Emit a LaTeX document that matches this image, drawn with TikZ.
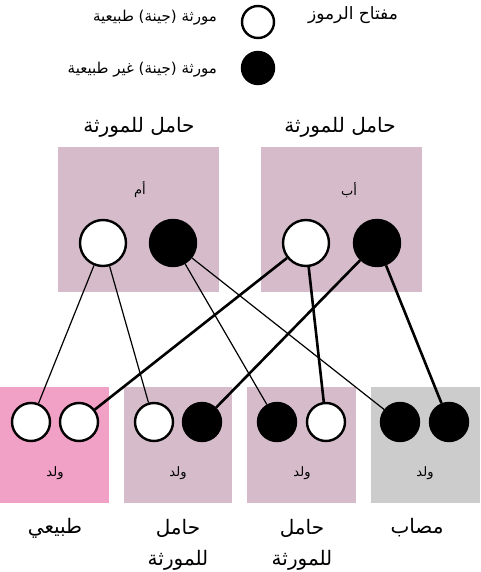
\documentclass[tikz,border=0pt]{standalone}
\usepackage{fontspec}
\usepackage{tikz}
\usepackage{xcolor}
\newfontfamily\arabicfont[Script=Arabic]{DejaVu Sans}
\TeXXeTstate=1
\definecolor{carrierbox}{RGB}{214,188,203}
\definecolor{normalbox}{RGB}{241,160,198}
\definecolor{affectedbox}{RGB}{204,204,204}

\begin{document}
\begin{tikzpicture}[x=1pt, y=-1pt,
  normal/.style={circle, draw, fill=white, line width=2.4pt, inner sep=0pt, minimum size=#1},
  faulty/.style={circle, draw, fill=black, line width=2.4pt, inner sep=0pt, minimum size=#1},
  txt/.style={font=\arabicfont\fontsize{#1}{31}\selectfont, inner sep=0pt},
  thin/.style={line width=1.2pt},
  thick/.style={line width=2.6pt}]
\useasboundingbox (0,0) rectangle (480,572);

% Key
\node[normal=32] (keyN) at (258,22) {};
\node[faulty=32] (keyF) at (258,68) {};
\node[txt=17] (keyT) at (353,15) {\beginR مفتاح الرموز\endR};
\node[txt=15, anchor=east] (keyNT) at (217,18) {\beginR مورثة (جينة) طبيعية\endR};
\node[txt=15, anchor=east] (keyFT) at (217,70) {\beginR مورثة (جينة) غير طبيعية\endR};

% Parents
\node[txt=20] (momT) at (139,127) {\beginR حامل للمورثة\endR};
\node[txt=20] (dadT) at (340,127) {\beginR حامل للمورثة\endR};
\fill[carrierbox] (58,147) rectangle (219,292);
\fill[carrierbox] (261,147) rectangle (422,292);
\node[txt=13] (mom) at (140,190) {\beginR أم\endR};
\node[txt=13] (dad) at (349,190) {\beginR أب\endR};
\node[normal=46] (mw) at (103,243) {};
\node[faulty=46] (mb) at (173,243) {};
\node[normal=46] (fw) at (306,243) {};
\node[faulty=46] (fb) at (377,243) {};

% Children
\fill[normalbox] (0,387) rectangle (109,503);
\fill[carrierbox] (124,387) rectangle (232,503);
\fill[carrierbox] (247,387) rectangle (356,503);
\fill[affectedbox] (371,387) rectangle (480,503);
\node[normal=38] (c1a) at (31,422) {};
\node[normal=38] (c1b) at (79,422) {};
\node[normal=38] (c2a) at (154,422) {};
\node[faulty=38] (c2b) at (202,422) {};
\node[faulty=38] (c3a) at (277,422) {};
\node[normal=38] (c3b) at (326,422) {};
\node[faulty=38] (c4a) at (400,422) {};
\node[faulty=38] (c4b) at (449,422) {};
\node[txt=13] (k1) at (55,473) {\beginR ولد\endR};
\node[txt=13] (k2) at (178,473) {\beginR ولد\endR};
\node[txt=13] (k3) at (302,473) {\beginR ولد\endR};
\node[txt=13] (k4) at (425,473) {\beginR ولد\endR};

% Inheritance lines
\draw[thin] (mw) -- (c1a);
\draw[thin] (mw) -- (c2a);
\draw[thin] (mb) -- (c3a);
\draw[thin] (mb) -- (c4a);
\draw[thick] (fw) -- (c1b);
\draw[thick] (fw) -- (c3b);
\draw[thick] (fb) -- (c2b);
\draw[thick] (fb) -- (c4b);

% Labels
\node[txt=20] (l1) at (55,528) {\beginR طبيعي\endR};
\node[txt=20, align=center] (l2) at (178,545) {\beginR حامل\endR\\\beginR للمورثة\endR};
\node[txt=20, align=center] (l3) at (302,545) {\beginR حامل\endR\\\beginR للمورثة\endR};
\node[txt=20] (l4) at (417,528) {\beginR مصاب\endR};
\end{tikzpicture}
\end{document}
